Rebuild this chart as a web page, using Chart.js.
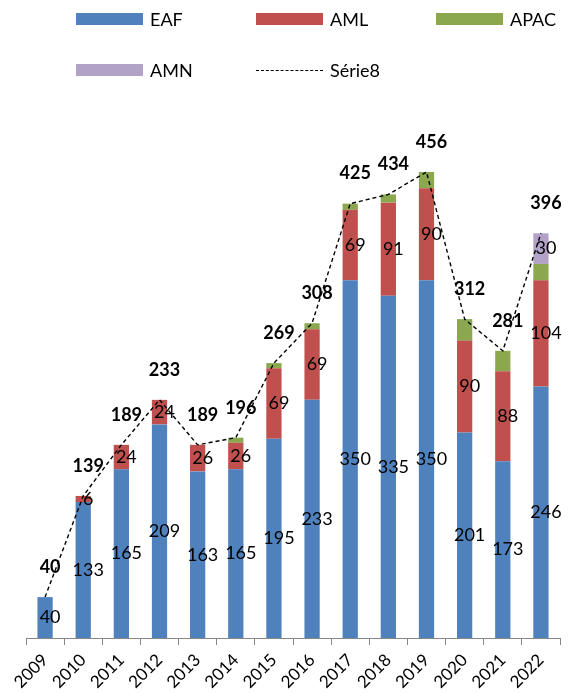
<!DOCTYPE html>
<html>
<head>
<meta charset="utf-8">
<script src="https://cdn.jsdelivr.net/npm/chart.js@4.4.0/dist/chart.umd.min.js"></script>
<style>
  html, body { margin: 0; padding: 0; background: #fff; }
  #wrap { position: relative; width: 571px; height: 698px; }
  #legend { position: absolute; left: 0; top: 0; width: 571px; height: 95px; font-family: Lato, "Liberation Sans", sans-serif; font-size: 18px; color: #000; }
  .li { position: absolute; height: 20px; display: flex; align-items: center; }
  .sw { width: 67px; height: 12px; margin-right: 7px; }
  .dash { width: 67px; height: 0; border-top: 1.5px dashed #000; margin-right: 7px; }
</style>
</head>
<body>
<div id="wrap">
  <canvas id="c" width="571" height="698"></canvas>
  <div id="legend"></div>
</div>
<script>
const categories = ['2009','2010','2011','2012','2013','2014','2015','2016','2017','2018','2019','2020','2021','2022'];
const eaf   = [40, 133, 165, 209, 163, 165, 195, 233, 350, 335, 350, 201, 173, 246];
const aml   = [0, 6, 24, 24, 26, 26, 69, 69, 69, 91, 90, 90, 88, 104];
const apac  = [0, 0, 0, 0, 0, 5, 5, 6, 6, 8, 16, 21, 20, 16];
const amn   = [0, 0, 0, 0, 0, 0, 0, 0, 0, 0, 0, 0, 0, 30];
const serie8 = [40, 139, 189, 233, 189, 196, 269, 308, 425, 434, 456, 312, 281, 396];

const FONT = 'Lato, "Liberation Sans", sans-serif';

const labelPlugin = {
  id: 'valueLabels',
  afterDatasetsDraw(chart) {
    const ctx = chart.ctx;
    ctx.save();
    ctx.textAlign = 'center';
    ctx.textBaseline = 'middle';
    ctx.fillStyle = '#000';
    chart.data.datasets.forEach((ds, i) => {
      const meta = chart.getDatasetMeta(i);
      if (!ds.showLabels) return;
      meta.data.forEach((el, j) => {
        const v = ds.data[j];
        if (!v) return;
        if (ds.type === 'line') {
          ctx.font = 'bold 18px ' + FONT;
          ctx.fillText(String(v), el.x + 5, el.y - 30);
        } else {
          ctx.font = '18px ' + FONT;
          ctx.fillText(String(v), el.x + 5, (el.y + el.base) / 2);
        }
      });
    });
    ctx.restore();
  }
};

const chart = new Chart(document.getElementById('c'), {
  data: {
    labels: categories,
    datasets: [
      { type: 'line', label: 'Série8', data: serie8, borderColor: '#000', borderWidth: 1.4, borderDash: [4, 3], pointRadius: 0, fill: false, tension: 0, order: 0, stack: 'total', showLabels: true },
      { type: 'bar', label: 'EAF', data: eaf, backgroundColor: '#4F81BD', order: 1, stack: 'bars', showLabels: true },
      { type: 'bar', label: 'AML', data: aml, backgroundColor: '#C0504D', order: 1, stack: 'bars', showLabels: true },
      { type: 'bar', label: 'APAC', data: apac, backgroundColor: '#8BA84F', order: 1, stack: 'bars', showLabels: false },
      { type: 'bar', label: 'AMN', data: amn, backgroundColor: '#B3A2C7', order: 1, stack: 'bars', showLabels: true }
    ]
  },
  options: {
    responsive: false,
    animation: false,
    events: [],
    layout: { padding: { top: 127, left: 26, right: 11, bottom: 0 } },
    datasets: { bar: { categoryPercentage: 1, barPercentage: 0.4 } },
    plugins: { legend: { display: false }, tooltip: { enabled: false } },
    scales: {
      x: {
        stacked: true,
        offset: true,
        grid: { display: true, drawOnChartArea: false, drawTicks: true, tickLength: 7, color: '#868686', offset: true },
        border: { display: true, color: '#868686', width: 1 },
        ticks: { color: '#000', font: { family: FONT, size: 17 }, minRotation: 45, maxRotation: 45, padding: 5 },
        afterFit(scale) { scale.height = 60; }
      },
      y: {
        stacked: true,
        display: false,
        min: 0,
        max: 500
      }
    }
  },
  plugins: [labelPlugin]
});

// HTML legend built from the chart's datasets
const legendOrder = ['EAF', 'AML', 'APAC', 'AMN', 'Série8'];
const legendEl = document.getElementById('legend');
legendOrder.forEach((name, i) => {
  const ds = chart.data.datasets.find(d => d.label === name);
  const col = i % 3, row = Math.floor(i / 3);
  const item = document.createElement('div');
  item.className = 'li';
  item.style.left = (76 + col * 180) + 'px';
  item.style.top = (9 + row * 51) + 'px';
  const sw = document.createElement('div');
  if (ds.type === 'line') { sw.className = 'dash'; }
  else { sw.className = 'sw'; sw.style.background = ds.backgroundColor; }
  const t = document.createElement('span');
  t.textContent = name;
  item.appendChild(sw);
  item.appendChild(t);
  legendEl.appendChild(item);
});
</script>
</body>
</html>
